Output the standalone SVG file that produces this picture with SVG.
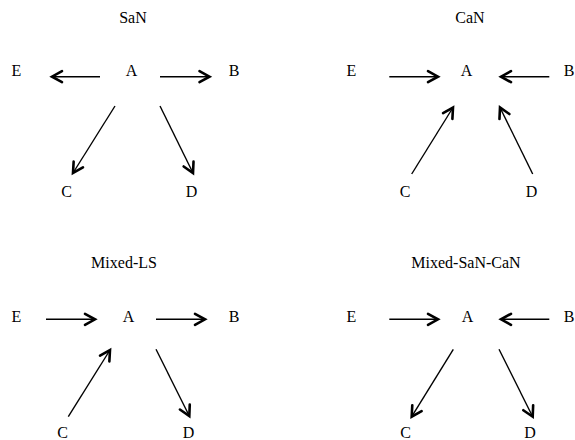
<svg xmlns="http://www.w3.org/2000/svg" width="575" height="440" viewBox="0 0 575 440">
<style>
text{font-size:16px;fill:#000;text-anchor:middle}
.c line{stroke:#000;stroke-width:1.4;fill:none;marker-end:url(#ah)}
</style>
<defs>
<marker id="ah" markerUnits="userSpaceOnUse" viewBox="-13 -8 16 16" markerWidth="16" markerHeight="16" refX="0" refY="0" orient="auto">
<path d="M-10,-5.5 L0,0 L-10,5.5" fill="none" stroke="#000" stroke-width="2.6" stroke-linejoin="miter" stroke-linecap="round"/>
</marker>
</defs>
<rect width="575" height="440" fill="#fff"/>
<g font-family="'Liberation Serif', 'DejaVu Serif', serif">
<text x="133" y="23">SaN</text>
<text x="470" y="23">CaN</text>
<text x="124" y="267.5">Mixed-LS</text>
<text x="466" y="267.5">Mixed-SaN-CaN</text>
<g id="p1-A"><text x="131.5" y="76">A</text></g>
<g id="p1-B"><text x="234" y="76">B</text></g>
<g id="p1-C"><text x="66.5" y="196.5">C</text></g>
<g id="p1-D"><text x="191.5" y="196.5">D</text></g>
<g id="p1-E"><text x="16.5" y="76">E</text></g>
<g id="p2-A"><text x="466.5" y="76">A</text></g>
<g id="p2-B"><text x="569" y="76">B</text></g>
<g id="p2-C"><text x="405" y="196.5">C</text></g>
<g id="p2-D"><text x="531.5" y="196.5">D</text></g>
<g id="p2-E"><text x="351.5" y="76">E</text></g>
<g id="p3-A"><text x="128.5" y="321.5">A</text></g>
<g id="p3-B"><text x="234" y="321.5">B</text></g>
<g id="p3-C"><text x="62.5" y="437.5">C</text></g>
<g id="p3-D"><text x="188.5" y="437.5">D</text></g>
<g id="p3-E"><text x="16.5" y="321.5">E</text></g>
<g id="p4-A"><text x="467.5" y="321.5">A</text></g>
<g id="p4-B"><text x="569" y="321.5">B</text></g>
<g id="p4-C"><text x="405.5" y="437.5">C</text></g>
<g id="p4-D"><text x="530" y="437.5">D</text></g>
<g id="p4-E"><text x="351.5" y="321.5">E</text></g>
</g>
<g id="connectors" class="c">
<line x1="100" y1="76.7" x2="52" y2="76.7"/>
<line x1="160" y1="76.7" x2="209.5" y2="76.7"/>
<line x1="115" y1="106" x2="73" y2="173"/>
<line x1="160" y1="106" x2="193" y2="173"/>
<line x1="389.3" y1="76.7" x2="438" y2="76.7"/>
<line x1="549.3" y1="76.7" x2="501" y2="76.7"/>
<line x1="411.7" y1="174" x2="453" y2="107.5"/>
<line x1="532.7" y1="174" x2="500" y2="107.5"/>
<line x1="46" y1="319.3" x2="95" y2="319.3"/>
<line x1="156" y1="319.3" x2="205" y2="319.3"/>
<line x1="68.3" y1="416.7" x2="110" y2="350"/>
<line x1="156" y1="349.3" x2="189.3" y2="416"/>
<line x1="389.3" y1="319.3" x2="438" y2="319.3"/>
<line x1="549.3" y1="319.3" x2="501" y2="319.3"/>
<line x1="453.3" y1="349.3" x2="411.7" y2="416.7"/>
<line x1="499" y1="349.3" x2="532.7" y2="416.7"/>
</g>
</svg>
